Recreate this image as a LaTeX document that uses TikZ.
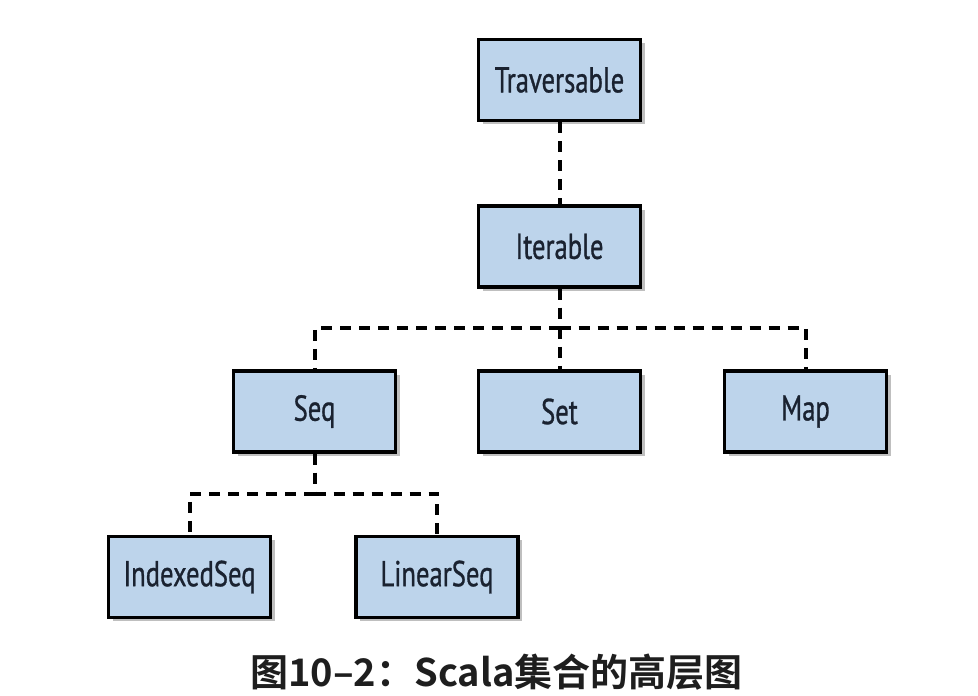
\documentclass[tikz,border=0pt]{standalone}
\usepackage{fontspec}
\setmainfont{PT Sans}[FakeStretch=0.74,FakeBold=0.8]
\newfontfamily\cjk{Noto Sans CJK SC}[BoldFont={* Bold}]
\usetikzlibrary{shadows}
\definecolor{boxblue}{HTML}{BDD4EB}
\definecolor{captxt}{HTML}{1E1E1E}
\definecolor{boxtxt}{HTML}{1A2230}
\tikzset{
  cbox/.style={draw=black, line width=3.5pt, fill=boxblue, minimum width=162pt, minimum height=81pt,
    inner sep=0pt, text=boxtxt, font=\fontsize{36}{40}\selectfont,
    drop shadow={shadow xshift=4pt, shadow yshift=-4pt, fill=black, opacity=0.25}},
  conn/.style={line width=4pt, dash pattern=on 11pt off 8pt}
}
\begin{document}
\begin{tikzpicture}[x=1pt,y=1pt]
\useasboundingbox (0,0) rectangle (978,696);
\fill[white] (0,0) rectangle (978,696);
% boxes (centres in px, y flipped)
\node[cbox] (trav) at (559.5,616) {Traversable};
\node[cbox] (iter) at (559.5,449.5) {Iterable};
\node[cbox] (seq)  at (314.5,284.5) {Seq};
\node[cbox] (set)  at (559.5,284.5) {Set};
\node[cbox] (map)  at (805.5,284.5) {Map};
\node[cbox] (idx)  at (189.5,119) {IndexedSeq};
\node[cbox] (lin)  at (437,119) {LinearSeq};
\coordinate (j1) at (559.5,368);
\coordinate (j2) at (314.5,202);
% connectors
\draw[conn] (trav.south) -- (iter.north);
\draw[conn] (iter.south) -- (j1);
\draw[conn] (j1) -| (seq.north);
\draw[conn] (j1) -- (set.north);
\draw[conn] (j1) -| (map.north);
\draw[conn] (seq.south) -- (j2);
\draw[conn] (j2) -| (idx.north);
\draw[conn] (j2) -| (lin.north);
% caption
\node[font=\cjk\bfseries\fontsize{38}{42}\selectfont, text=captxt] (cap) at (496.5,24) {图10–2：Scala集合的高层图};
\end{tikzpicture}
\end{document}
